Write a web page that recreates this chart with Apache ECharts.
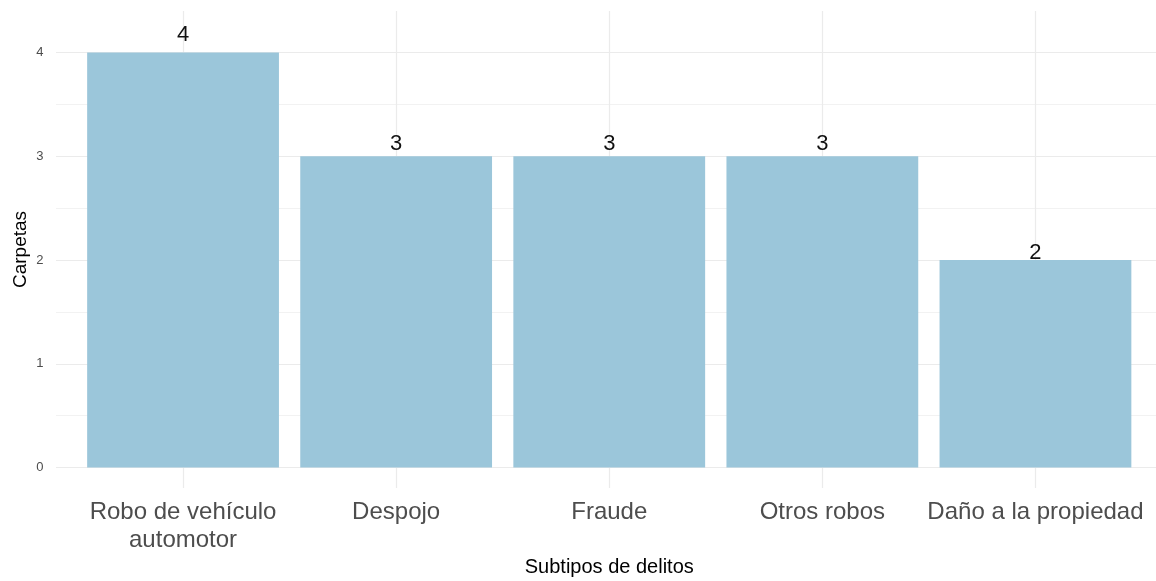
<!DOCTYPE html>
<html>
<head>
<meta charset="utf-8">
<script src="https://cdn.jsdelivr.net/npm/echarts@6/dist/echarts.min.js"></script>
<style>
html,body{margin:0;padding:0;background:#fff;}
#chart{width:1156px;height:581px;}
</style>
</head>
<body>
<div id="chart"></div>
<script>
const categories = ['Robo de vehículo\nautomotor', 'Despojo', 'Fraude', 'Otros robos', 'Daño a la propiedad'];
const values = [4, 3, 3, 3, 2];
const yTicks = [0, 1, 2, 3, 4];
const xTitle = 'Subtipos de delitos';
const yTitle = 'Carpetas';
const labelLift = 1.05; // text labels placed at 105% of bar height, as in the reference

const FONT = '"Liberation Sans", Arial, sans-serif';
const chart = echarts.init(document.getElementById('chart'), null, {renderer: 'canvas'});
chart.setOption({
  animation: false,
  backgroundColor: '#ffffff',
  grid: [
    {left: 76.5, right: 14, top: 11, bottom: 113.5, containLabel: false, outerBoundsMode: 'none'},
    {left: 56, right: 0, top: 11, bottom: 113.5, containLabel: false, outerBoundsMode: 'none'},
    {left: 183, right: 120.5, top: 11, bottom: 93, containLabel: false, outerBoundsMode: 'none'}
  ],
  xAxis: [
    {
      gridIndex: 0, type: 'category', data: categories, boundaryGap: true,
      axisLine: {show: false}, axisTick: {show: false}, splitLine: {show: false},
      axisLabel: {
        interval: 0, margin: 31, color: '#4d4d4d', fontFamily: FONT,
        fontSize: 24, lineHeight: 28
      }
    },
    {
      gridIndex: 1, type: 'value', min: 0, max: 1, show: false
    },
    {
      gridIndex: 2, type: 'value', min: 0, max: yTicks.length - 1, interval: 1,
      axisLine: {show: false}, axisTick: {show: false}, axisLabel: {show: false},
      splitLine: {show: true, lineStyle: {color: '#ebebeb', width: 1.2}},
      name: xTitle, nameLocation: 'middle', nameGap: 69,
      nameTextStyle: {color: '#000', fontFamily: FONT, fontSize: 20}
    }
  ],
  yAxis: [
    {
      gridIndex: 0, type: 'value', min: 0, max: 4.4, interval: 1,
      axisLine: {show: false}, axisTick: {show: false}, splitLine: {show: false},
      axisLabel: {
        margin: 33, color: '#4d4d4d', fontFamily: FONT, fontSize: 13,
        padding: [4, 0, 0, 0],
        formatter: v => (yTicks.indexOf(v) >= 0 ? String(v) : '')
      }
    },
    {
      gridIndex: 1, type: 'value', min: 0, max: 4.4, interval: 0.5,
      axisLine: {show: false}, axisTick: {show: false}, axisLabel: {show: false},
      splitLine: {show: true, showMaxLine: false, lineStyle: {color: ['#ebebeb', '#f2f2f2'], width: 1.2}}
    },
    {
      gridIndex: 2, type: 'value', min: 0, max: 1,
      axisLine: {show: false}, axisTick: {show: false}, axisLabel: {show: false},
      splitLine: {show: false},
      name: yTitle, nameLocation: 'middle', nameGap: 153, nameRotate: 90,
      nameTextStyle: {color: '#000', fontFamily: FONT, fontSize: 19}
    }
  ],
  series: [{
    type: 'bar',
    xAxisIndex: 0, yAxisIndex: 0,
    data: values,
    barCategoryGap: '10%',
    itemStyle: {color: '#9bc6da'},
    z: 5
  }, {
    type: 'scatter',
    xAxisIndex: 0, yAxisIndex: 0,
    data: values.map((v, i) => ({value: [i, v * labelLift], raw: v})),
    symbolSize: 0,
    silent: true,
    itemStyle: {opacity: 1},
    label: {
      show: true, position: 'inside', offset: [0, 3],
      color: '#111111', opacity: 1, textBorderWidth: 0, textBorderColor: 'transparent',
      fontFamily: FONT, fontSize: 22,
      formatter: p => String(p.data.raw)
    },
    z: 6
  }]
});
</script>
</body>
</html>
